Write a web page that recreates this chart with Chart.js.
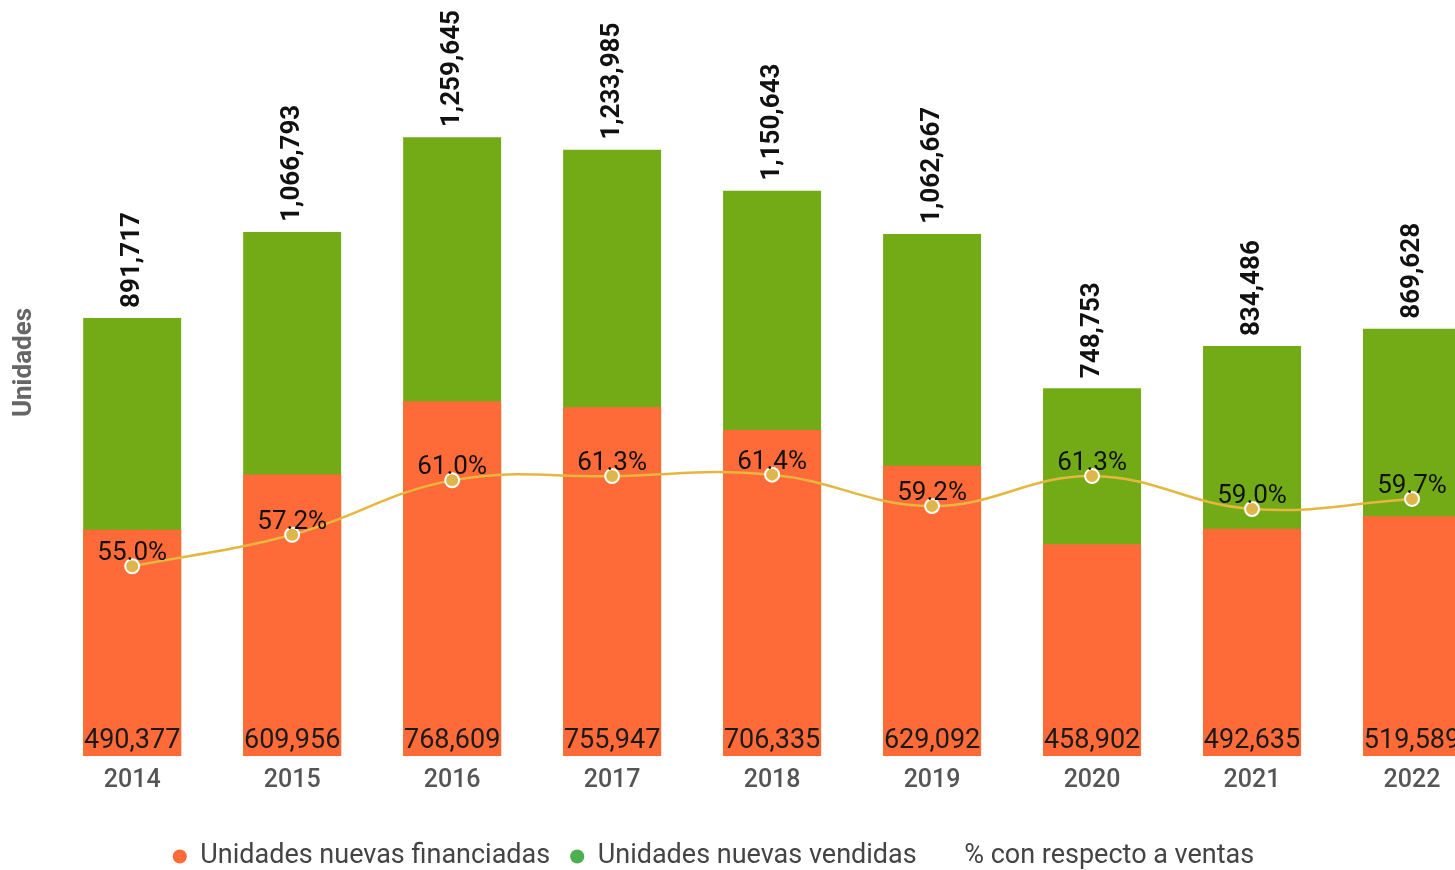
<!DOCTYPE html>
<html>
<head>
<meta charset="utf-8">
<script src="https://cdn.jsdelivr.net/npm/chart.js@4.4.1/dist/chart.umd.min.js"></script>
<style>
  html, body { margin: 0; padding: 0; background: #fff; overflow: hidden; width: 1455px; height: 870px; }
  #wrap { position: absolute; left: 0; top: -40px; width: 1560px; height: 917px; }
</style>
</head>
<body>
<div id="wrap"><canvas id="chart"></canvas></div>
<script>
const years = ['2014', '2015', '2016', '2017', '2018', '2019', '2020', '2021', '2022'];
const financiadas = [490377, 609956, 768609, 755947, 706335, 629092, 458902, 492635, 519589];
const vendidas = [891717, 1066793, 1259645, 1233985, 1150643, 1062667, 748753, 834486, 869628];
const porcentaje = [55.0, 57.2, 61.0, 61.3, 61.4, 59.2, 61.3, 59.0, 59.7];

const ORANGE = '#FF6B38';
const GREEN = '#73AB16';
const GOLD = '#E6B63E';

// etiquetas de valores (no hay plugin datalabels sin red)
const valueLabels = {
    id: 'valueLabels',
    afterDatasetsDraw(chart) {
        const ctx = chart.ctx;
        ctx.save();
        chart.getDatasetMeta(1).data.forEach((bar, i) => {
            ctx.save();
            ctx.translate(bar.x, bar.y - 10);
            ctx.rotate(-Math.PI / 2);
            ctx.font = 'bold 26px Roboto';
            ctx.fillStyle = '#111';
            ctx.textAlign = 'left';
            ctx.textBaseline = 'middle';
            ctx.fillText(vendidas[i].toLocaleString('en-US'), 0, 0);
            ctx.restore();
        });
        ctx.font = '27px Roboto';
        ctx.fillStyle = '#1a1a1a';
        ctx.textAlign = 'center';
        ctx.textBaseline = 'alphabetic';
        chart.getDatasetMeta(0).data.forEach((bar, i) => {
            ctx.fillText(financiadas[i].toLocaleString('en-US'), bar.x, bar.base - 8);
        });
        ctx.font = '26px Roboto';
        ctx.fillStyle = '#111';
        chart.getDatasetMeta(2).data.forEach((pt, i) => {
            ctx.fillText(porcentaje[i].toFixed(1) + '%', pt.x, pt.y - 6);
        });
        ctx.restore();
    }
};

// la leyenda del original no esta centrada en el area del grafico
const shiftLegend = {
    id: 'shiftLegend',
    afterLayout(chart) {
        const l = chart.legend;
        l.left -= 35; l.right -= 35;
        l.top += 17; l.bottom += 17;
    }
};

new Chart(document.getElementById('chart'), {
    type: 'bar',
    data: {
        labels: years,
        datasets: [
            {
                label: 'Unidades nuevas financiadas',
                data: financiadas,
                backgroundColor: ORANGE,
                yAxisID: 'y2',
                order: 1
            },
            {
                label: 'Unidades nuevas vendidas',
                data: vendidas,
                backgroundColor: GREEN,
                yAxisID: 'y',
                order: 2
            },
            {
                label: '% con respecto a ventas',
                data: porcentaje,
                type: 'line',
                yAxisID: 'y3',
                borderColor: GOLD,
                borderWidth: 2.5,
                tension: 0.4,
                fill: false,
                pointRadius: 7,
                pointBackgroundColor: '#DFB64A',
                pointBorderColor: '#fff',
                pointBorderWidth: 2,
                order: 0
            }
        ]
    },
    options: {
        responsive: true,
        maintainAspectRatio: false,
        animation: false,
        layout: { padding: { left: 5, right: 68, top: 9, bottom: 14 } },
        datasets: { bar: { grouped: false, categoryPercentage: 1, barPercentage: 0.6125 } },
        scales: {
            x: {
                grid: { display: false, drawTicks: false },
                border: { display: false },
                ticks: { color: '#555', padding: 10, font: { family: 'Roboto', size: 25, weight: '500' } }
            },
            y: {
                min: 0,
                max: 1602000,
                grid: { display: false, drawTicks: false },
                border: { display: false },
                ticks: { display: false },
                title: {
                    display: true,
                    text: 'Unidades',
                    color: '#666',
                    font: { family: 'Roboto', size: 26, weight: 'bold' },
                    padding: { top: 4, bottom: 12 }
                }
            },
            y2: { display: false, min: 0, max: 1705600 },
            y3: { display: false, min: 41.74, max: 96.73 }
        },
        plugins: {
            tooltip: { enabled: false },
            legend: {
                position: 'bottom',
                labels: {
                    color: '#444',
                    font: { family: 'Roboto', size: 27 },
                    padding: 20,
                    usePointStyle: true,
                    pointStyle: 'circle',
                    boxWidth: 14,
                    boxHeight: 10,
                    generateLabels(chart) {
                        const items = Chart.defaults.plugins.legend.labels.generateLabels(chart);
                        items.sort((a, b) => a.datasetIndex - b.datasetIndex);
                        items.forEach(it => {
                            it.lineWidth = 0;
                            if (it.datasetIndex === 0) { it.fillStyle = ORANGE; }
                            if (it.datasetIndex === 1) { it.fillStyle = '#4CB050'; }
                            if (it.datasetIndex === 2) { it.fillStyle = 'rgba(0,0,0,0)'; it.strokeStyle = 'rgba(0,0,0,0)'; }
                        });
                        return items;
                    }
                }
            }
        }
    },
    plugins: [valueLabels, shiftLegend]
});
</script>
</body>
</html>
